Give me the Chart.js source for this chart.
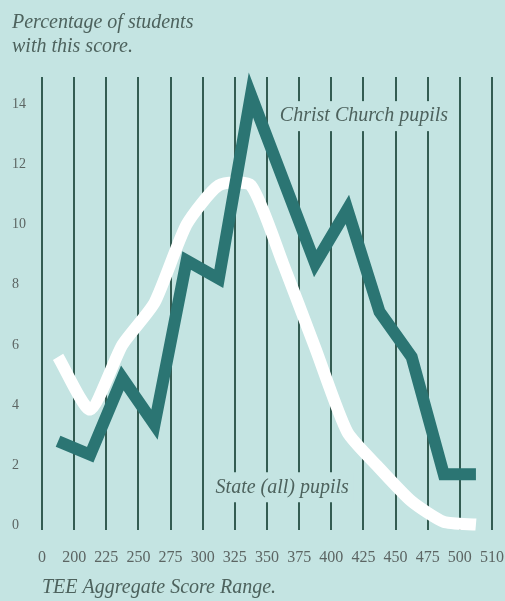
<!DOCTYPE html>
<html>
<head>
<meta charset="utf-8">
<script src="https://cdn.jsdelivr.net/npm/chart.js@4.4.1/dist/chart.umd.min.js"></script>
<style>
  html, body { margin: 0; padding: 0; background: #c4e4e2; }
  #wrap { width: 505px; height: 601px; }
</style>
</head>
<body>
<div id="wrap"><canvas id="teeChart"></canvas></div>
<script>
// score range boundaries (one label per vertical line)
const xTickLabels = ['0', '200', '225', '250', '275', '300', '325', '350', '375', '400', '425', '450', '475', '500', '510'];
const yTickValues = [0, 2, 4, 6, 8, 10, 12, 14];

// percentage of students in each score band (14 bands between the lines)
const christChurch = [2.8, 2.35, 4.9, 3.35, 8.8, 8.2, 14.3, 11.5, 8.7, 10.5, 7.1, 5.6, 1.7, 1.7];
const stateAll = [5.6, 3.85, 6.0, 7.4, 10.0, 11.3, 11.3, 8.7, 5.9, 3.1, 1.9, 0.8, 0.12, 0.03];

const bgColour = '#c4e4e2';
const textColour = '#4d625d';
const serif = '"Liberation Serif", "DejaVu Serif", serif';

function toPoints(values) {
    return values.map((v, i) => ({ x: i + 0.5, y: v }));
}

// series labels sit in a gap cut out of the vertical lines
const seriesLabels = {
    id: 'seriesLabels',
    beforeDatasetsDraw(chart) {
        const ctx = chart.ctx;
        const xs = chart.scales.x;
        const ys = chart.scales.y;
        const labels = [
            { text: 'Christ Church pupils', x: 7.4, y: 13.6 },
            { text: 'State (all) pupils', x: 5.4, y: 1.27 }
        ];
        ctx.save();
        ctx.font = 'italic 20px ' + serif;
        ctx.textBaseline = 'middle';
        ctx.textAlign = 'left';
        labels.forEach(l => {
            const px = xs.getPixelForValue(l.x);
            const py = ys.getPixelForValue(l.y);
            const w = ctx.measureText(l.text).width;
            ctx.fillStyle = bgColour;
            ctx.fillRect(px - 5, py - 15, w + 10, 30);
            ctx.fillStyle = textColour;
            ctx.fillText(l.text, px, py);
        });
        ctx.restore();
    },
    afterDraw(chart) {
        const ctx = chart.ctx;
        ctx.save();
        ctx.font = 'italic 20px ' + serif;
        ctx.fillStyle = textColour;
        ctx.textAlign = 'left';
        ctx.textBaseline = 'alphabetic';
        ctx.fillText('Percentage of students', 12, 28);
        ctx.fillText('with this score.', 12, 52);
        ctx.restore();
    }
};

new Chart(document.getElementById('teeChart'), {
    type: 'line',
    data: {
        datasets: [
            {
                label: 'Christ Church pupils',
                data: toPoints(christChurch),
                borderColor: '#2b7573',
                borderWidth: 12,
                borderJoinStyle: 'miter',
                pointRadius: 0,
                tension: 0,
                clip: false
            },
            {
                label: 'State (all) pupils',
                data: toPoints(stateAll),
                borderColor: '#ffffff',
                borderWidth: 12,
                pointRadius: 0,
                tension: 0.2,
                clip: false
            }
        ]
    },
    options: {
        responsive: true,
        maintainAspectRatio: false,
        animation: false,
        layout: { padding: { left: 12, right: 13, top: 77, bottom: 0 } },
        plugins: {
            legend: { display: false },
            tooltip: { enabled: false }
        },
        scales: {
            x: {
                type: 'linear',
                min: 0,
                max: xTickLabels.length - 1,
                afterBuildTicks: scale => {
                    scale.ticks = xTickLabels.map((t, i) => ({ value: i }));
                },
                afterFit: scale => {
                    scale.height = 71;
                    scale.paddingLeft = 0;
                    scale.paddingRight = 0;
                },
                ticks: {
                    padding: 18,
                    color: '#5c6563',
                    font: { family: serif, size: 16 },
                    maxRotation: 0,
                    autoSkip: false,
                    callback: (value, index) => xTickLabels[index]
                },
                grid: {
                    color: '#335c52',
                    lineWidth: 2,
                    drawTicks: false
                },
                border: { display: false },
                title: {
                    display: true,
                    text: 'TEE Aggregate Score Range.',
                    align: 'start',
                    color: textColour,
                    font: { family: serif, size: 20, style: 'italic' },
                    padding: { top: 0, bottom: 1 }
                }
            },
            y: {
                type: 'linear',
                min: -0.15,
                max: 14.9,
                afterBuildTicks: scale => {
                    scale.ticks = yTickValues.map(v => ({ value: v }));
                },
                afterFit: scale => { scale.width = 30; },
                ticks: {
                    crossAlign: 'far',
                    color: '#5c6563',
                    font: { family: serif, size: 14 }
                },
                grid: { display: false },
                border: { display: false }
            }
        }
    },
    plugins: [seriesLabels]
});
</script>
</body>
</html>
